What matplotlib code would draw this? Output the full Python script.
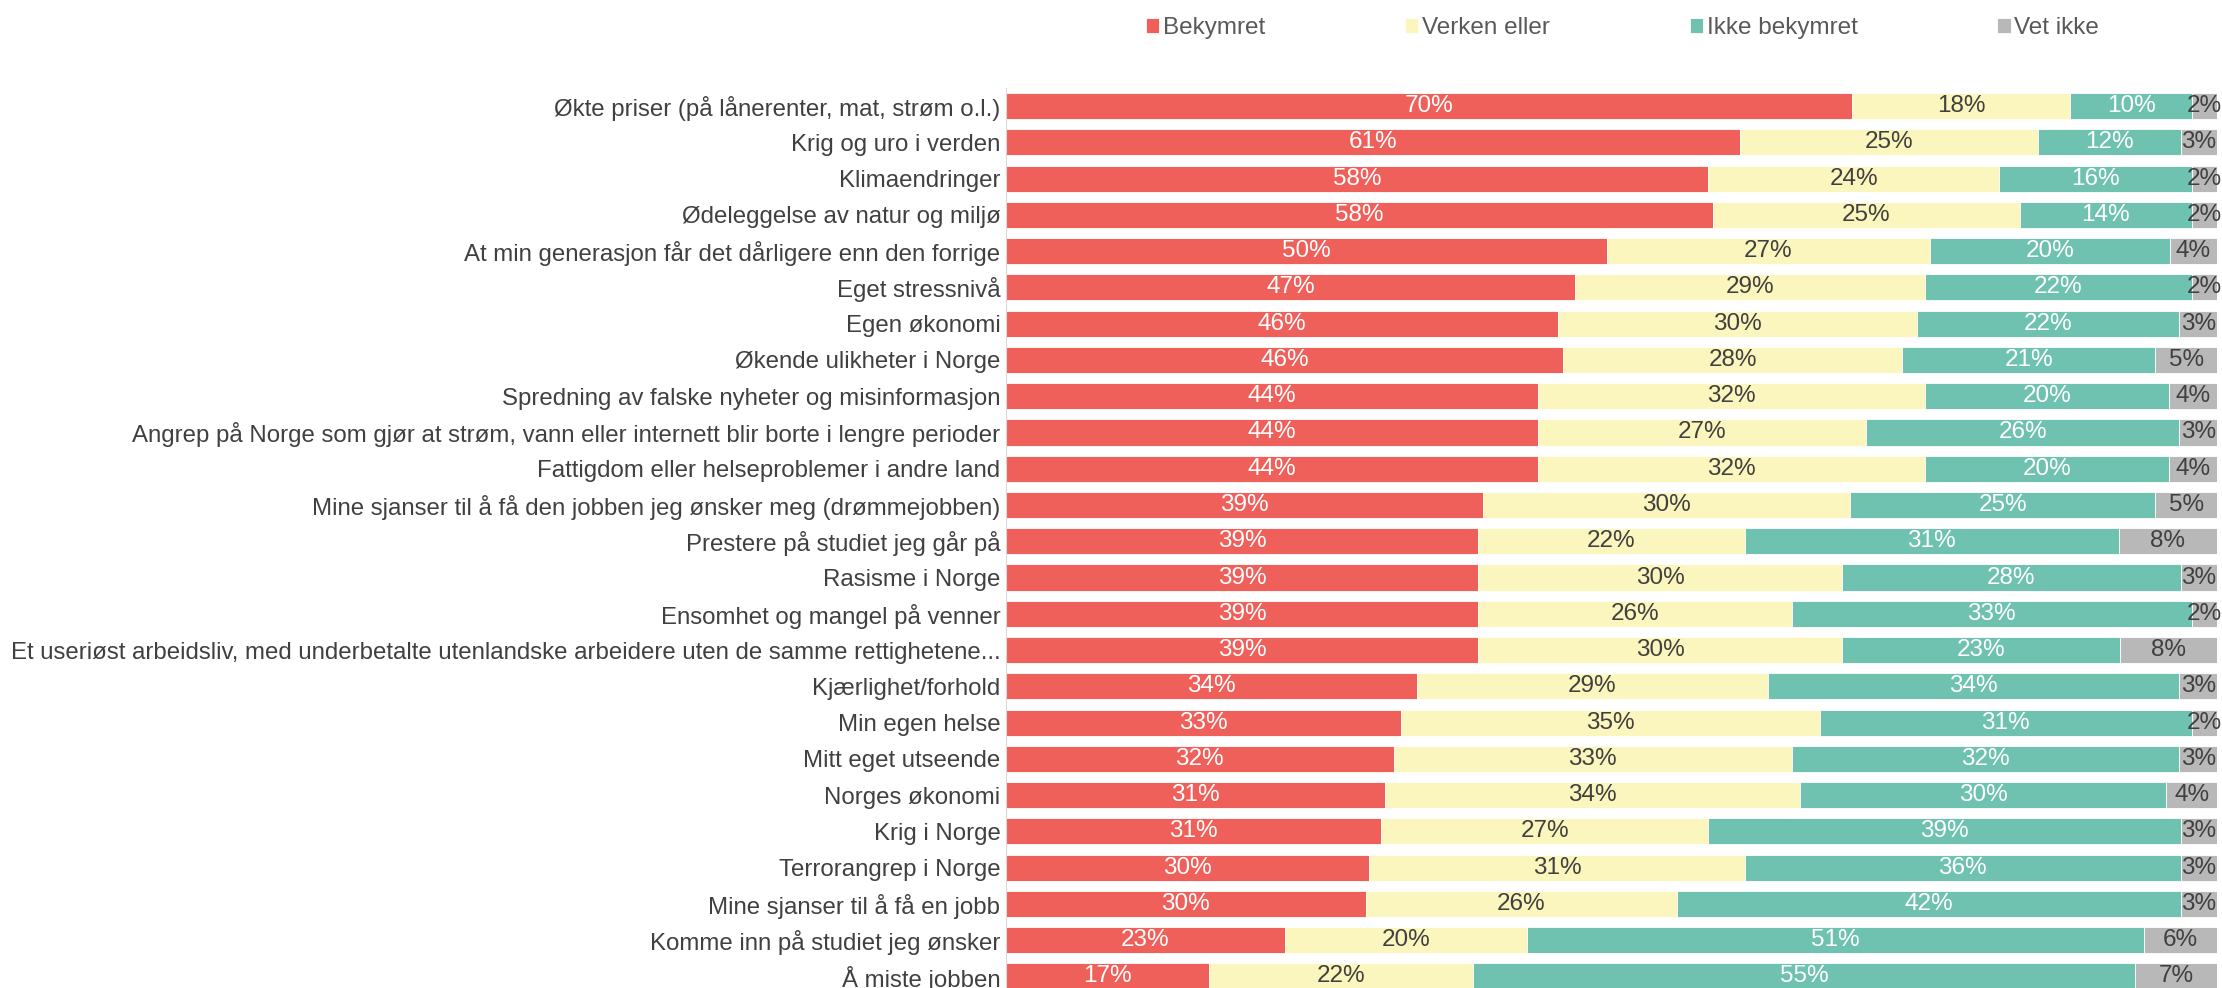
import matplotlib
matplotlib.use("Agg")
from matplotlib import pyplot as plt
import numpy as np

plt.rcParams['font.family'] = ['Liberation Sans', 'DejaVu Sans']

categories = [
    "Økte priser (på lånerenter, mat, strøm o.l.)",
    "Krig og uro i verden",
    "Klimaendringer",
    "Ødeleggelse av natur og miljø",
    "At min generasjon får det dårligere enn den forrige",
    "Eget stressnivå",
    "Egen økonomi",
    "Økende ulikheter i Norge",
    "Spredning av falske nyheter og misinformasjon",
    "Angrep på Norge som gjør at strøm, vann eller internett blir borte i lengre perioder",
    "Fattigdom eller helseproblemer i andre land",
    "Mine sjanser til å få den jobben jeg ønsker meg (drømmejobben)",
    "Prestere på studiet jeg går på",
    "Rasisme i Norge",
    "Ensomhet og mangel på venner",
    "Et useriøst arbeidsliv, med underbetalte utenlandske arbeidere uten de samme rettighetene...",
    "Kjærlighet/forhold",
    "Min egen helse",
    "Mitt eget utseende",
    "Norges økonomi",
    "Krig i Norge",
    "Terrorangrep i Norge",
    "Mine sjanser til å få en jobb",
    "Komme inn på studiet jeg ønsker",
    "Å miste jobben",
]

bekymret = [69.9, 60.6, 58.0, 58.4, 49.6, 47.0, 45.6, 46.0, 43.9, 43.9, 43.9, 39.4, 39.0,
            39.0, 39.0, 39.0, 33.9, 32.6, 32.0, 31.3, 31.0, 30.0, 29.7, 23.0, 16.8]
verken = [18.0, 24.6, 24.0, 25.3, 26.7, 28.9, 29.6, 28.0, 32.0, 27.1, 32.0, 30.3, 22.0,
          30.0, 25.9, 30.0, 29.0, 34.6, 32.9, 34.3, 27.0, 31.0, 25.7, 20.0, 21.8]
ikke = [10.0, 11.8, 15.9, 14.2, 19.8, 22.0, 21.7, 20.9, 20.1, 25.9, 20.1, 25.2, 30.9,
        28.0, 33.0, 23.0, 34.0, 30.7, 32.0, 30.2, 39.0, 36.0, 41.6, 51.0, 54.6]
vet_ikke = [2.1, 3.0, 2.1, 2.1, 3.9, 2.1, 3.1, 5.1, 4.0, 3.1, 4.0, 5.1, 8.1,
            3.0, 2.1, 8.0, 3.1, 2.1, 3.1, 4.2, 3.0, 3.0, 3.0, 6.0, 6.8]

series = ["Bekymret", "Verken eller", "Ikke bekymret", "Vet ikke"]
colors = ['#F0605B', '#FBF6BD', '#70C2B0', '#B8B8B8']
text_colors = ['white', '#404040', 'white', '#404040']

fig = plt.figure(figsize=(22.22, 9.88), dpi=100)
ax = fig.add_axes([1006 / 2222, 0.0, 1211 / 2222, 900 / 988])

y = np.arange(len(categories))
left = np.zeros(len(categories))
for vals, name, col, tcol in zip([bekymret, verken, ikke, vet_ikke], series, colors, text_colors):
    vals = np.array(vals)
    bars = ax.barh(y, vals, left=left, height=0.72, color=col, edgecolor='white',
                   linewidth=0.6, label=name)
    ax.bar_label(bars, labels=[f"{v:.0f}%" for v in vals], label_type='center',
                 color=tcol, fontsize=17.5, clip_on=False)
    left += vals

ax.set_xlim(0, 100)
ax.set_ylim(24.32, -0.5)
ax.set_yticks(y)
ax.set_yticklabels(categories, fontsize=17.3, color='#404040')
ax.tick_params(axis='y', length=0, pad=4)
ax.set_xticks([])
for s in ['top', 'right', 'bottom']:
    ax.spines[s].set_visible(False)
ax.spines['left'].set_color('#D9D9D9')

fig.legend(loc='upper left', bbox_to_anchor=(1129 / 2222, 1.0), ncol=4, frameon=False,
           fontsize=17.5, labelcolor='#595959', handlelength=0.55, handleheight=0.55,
           handletextpad=0.15, columnspacing=5.75, borderaxespad=0.3)

fig.savefig("out.png", dpi=100)
